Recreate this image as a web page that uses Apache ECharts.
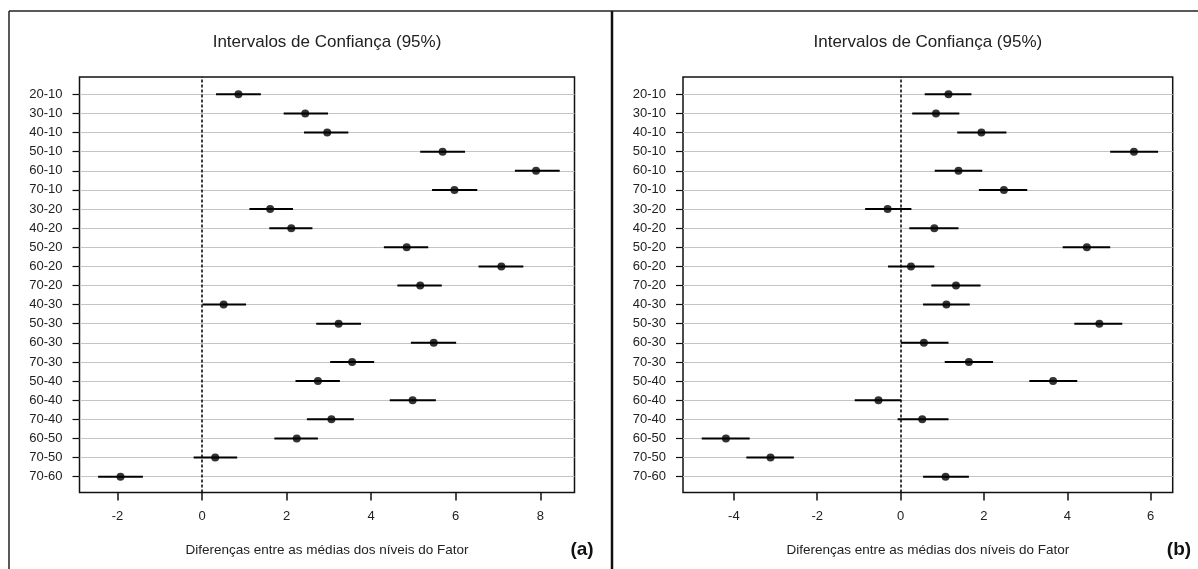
<!DOCTYPE html>
<html>
<head>
<meta charset="utf-8">
<script src="https://cdn.jsdelivr.net/npm/echarts@6/dist/echarts.min.js"></script>
<style>html,body{margin:0;padding:0;background:#fff;}#c{width:1198px;height:569px;}</style>
</head>
<body>
<div id="c"></div>
<script>
const categories = ['20-10','30-10','40-10','50-10','60-10','70-10','30-20','40-20','50-20','60-20','70-20','40-30','50-30','60-30','70-30','50-40','60-40','70-40','60-50','70-50','70-60'];

// Panel (a)
const meanA = [0.86,2.44,2.96,5.69,7.90,5.97,1.61,2.11,4.84,7.08,5.16,0.51,3.23,5.48,3.55,2.74,4.98,3.06,2.24,0.31,-1.93];
const lowA  = [0.33,1.93,2.41,5.16,7.40,5.44,1.12,1.59,4.30,6.54,4.62,0.01,2.70,4.94,3.03,2.21,4.44,2.48,1.71,-0.20,-2.46];
const highA = [1.39,2.98,3.46,6.22,8.46,6.51,2.15,2.61,5.35,7.60,5.67,1.04,3.76,6.01,4.07,3.26,5.53,3.59,2.74,0.83,-1.40];
const ticksA = [-2,0,2,4,6,8];

// Panel (b)
const meanB = [1.15,0.85,1.94,5.60,1.39,2.48,-0.31,0.81,4.47,0.25,1.33,1.10,4.77,0.56,1.64,3.66,-0.53,0.52,-4.19,-3.12,1.08];
const lowB  = [0.58,0.28,1.36,5.03,0.82,1.88,-0.85,0.21,3.89,-0.30,0.74,0.54,4.17,0.01,1.06,3.09,-1.10,-0.07,-4.77,-3.70,0.54];
const highB = [1.70,1.41,2.54,6.18,1.96,3.04,0.26,1.39,5.03,0.81,1.92,1.66,5.32,1.15,2.22,4.24,0.01,1.15,-3.62,-2.56,1.64];
const ticksB = [-4,-2,0,2,4,6];

const titleText = 'Intervalos de Confiança (95%)';
const axisNameText = 'Diferenças entre as médias dos níveis do Fator';
const panelLabels = ['(a)', '(b)'];
const zeroLine = 0;

const FONT = '"Liberation Sans", Arial, sans-serif';
const chart = echarts.init(document.getElementById('c'), null, {renderer: 'canvas'});

const panels = [
  {left: 79.5, right: 623.5, xmin: -2.9, xmax: 8.81, ticks: ticksA, mean: meanA, low: lowA, high: highA, label: panelLabels[0], labelX: 582},
  {left: 683, right: 25.3, xmin: -5.22, xmax: 6.53, ticks: ticksB, mean: meanB, low: lowB, high: highB, label: panelLabels[1], labelX: 1179}
];

const grid = [], xAxis = [], yAxis = [], series = [], graphic = [];

function renderInterval(params, api) {
  const y = api.value(0);
  const a = api.coord([api.value(1), y]);
  const b = api.coord([api.value(2), y]);
  return {type: 'line', shape: {x1: a[0], y1: a[1], x2: b[0], y2: b[1]}, style: {stroke: '#000', lineWidth: 2}};
}

panels.forEach((p, k) => {
  const gi = k * 2, go = k * 2 + 1;
  // inner grid: rows
  grid.push({left: p.left, right: p.right, top: 94.3, bottom: 92.3, containLabel: false});
  // outer grid: plot frame
  grid.push({left: p.left, right: p.right, top: 77, bottom: 76.5, show: true, borderColor: '#111', borderWidth: 1.5, backgroundColor: 'transparent', containLabel: false});

  xAxis.push({gridIndex: gi, type: 'value', min: p.xmin, max: p.xmax, show: false, axisLine: {onZero: false}, splitLine: {show: false}});
  xAxis.push({
    gridIndex: go, type: 'value', min: p.xmin, max: p.xmax, position: 'bottom',
    axisLine: {show: false, onZero: false},
    axisTick: {show: true, length: 8, customValues: p.ticks, lineStyle: {color: '#111', width: 1.5}},
    axisLabel: {show: true, customValues: p.ticks, margin: 17, color: '#222', fontSize: 13, fontFamily: FONT},
    splitLine: {show: false},
    name: axisNameText, nameLocation: 'middle', nameGap: 51,
    nameTextStyle: {color: '#222', fontSize: 13.5, fontFamily: FONT}
  });

  yAxis.push({
    gridIndex: gi, type: 'value', inverse: true, min: 0, max: categories.length - 1, interval: 1, position: 'left',
    axisLine: {show: false, onZero: false},
    axisTick: {show: true, length: 7, lineStyle: {color: '#111', width: 1.2}},
    axisLabel: {show: true, margin: 17, color: '#222', fontSize: 13, fontFamily: FONT,
      formatter: v => categories[Math.round(v)] || ''},
    splitLine: {show: true, lineStyle: {color: '#c4c4c4', width: 1}}
  });
  yAxis.push({gridIndex: go, type: 'value', min: 0, max: 1, show: false, axisLine: {onZero: false}, splitLine: {show: false}});

  // zero reference line
  series.push({
    type: 'scatter', xAxisIndex: go, yAxisIndex: go, data: [[zeroLine, 0.5]], symbolSize: 0, silent: true,
    markLine: {silent: true, symbol: 'none', label: {show: false},
      lineStyle: {color: '#000', type: [3, 2], width: 1.5},
      data: [{xAxis: zeroLine}]}
  });
  // intervals
  series.push({
    type: 'custom', xAxisIndex: gi, yAxisIndex: gi, renderItem: renderInterval,
    encode: {x: [1, 2], y: 0},
    data: categories.map((c, i) => [i, p.low[i], p.high[i]]), z: 3
  });
  // means
  series.push({
    type: 'scatter', xAxisIndex: gi, yAxisIndex: gi, symbol: 'circle', symbolSize: 8,
    itemStyle: {color: '#000'}, data: categories.map((c, i) => [p.mean[i], i]), z: 4
  });

  const plotLeft = p.left, plotRight = 1198 - p.right;
  graphic.push({type: 'text', x: (plotLeft + plotRight) / 2, y: 42,
    style: {text: titleText, align: 'center', verticalAlign: 'middle', fill: '#222', font: '17px ' + FONT}});
  graphic.push({type: 'text', x: p.labelX, y: 550,
    style: {text: p.label, align: 'center', verticalAlign: 'middle', fill: '#111', font: 'bold 19px ' + FONT}});
});

// outer figure frame
graphic.push({type: 'line', shape: {x1: 9, y1: 11, x2: 1198, y2: 11}, style: {stroke: '#222', lineWidth: 1.5}});
graphic.push({type: 'line', shape: {x1: 9, y1: 11, x2: 9, y2: 569}, style: {stroke: '#222', lineWidth: 1.5}});
graphic.push({type: 'line', shape: {x1: 612, y1: 11, x2: 612, y2: 569}, style: {stroke: '#111', lineWidth: 2.5}});

chart.setOption({
  backgroundColor: '#fff',
  animation: false,
  grid, xAxis, yAxis, series, graphic
});
</script>
</body>
</html>
